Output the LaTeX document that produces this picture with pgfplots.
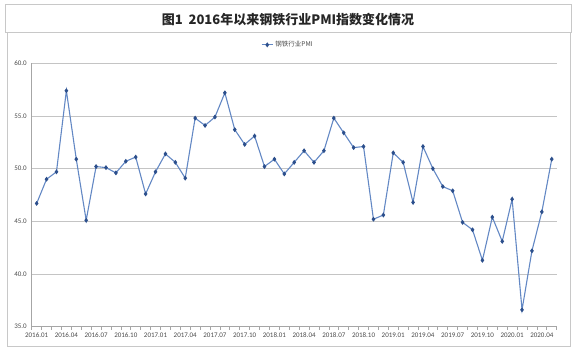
\documentclass[border=0pt]{standalone}
\usepackage{pgfplots}
\pgfplotsset{compat=1.18}
\usepackage{fontspec}
\setmainfont{Carlito}
\newfontfamily\cjk{Noto Sans CJK SC}
\definecolor{frame}{HTML}{C8C8C8}
\definecolor{gridc}{HTML}{C4C4C4}
\definecolor{linec}{HTML}{6388C4}
\definecolor{markc}{HTML}{2C4F8C}
\definecolor{labc}{HTML}{4A4A4A}
\pgfplotstableread{
x y
0 46.7
1 49.0
2 49.7
3 57.4
4 50.9
5 45.1
6 50.2
7 50.1
8 49.6
9 50.7
10 51.1
11 47.6
12 49.7
13 51.4
14 50.6
15 49.1
16 54.8
17 54.1
18 54.9
19 57.2
20 53.7
21 52.3
22 53.1
23 50.2
24 50.9
25 49.5
26 50.6
27 51.7
28 50.6
29 51.7
30 54.8
31 53.4
32 52.0
33 52.1
34 45.2
35 45.6
36 51.5
37 50.6
38 46.8
39 52.1
40 50.0
41 48.3
42 47.9
43 44.9
44 44.2
45 41.3
46 45.4
47 43.1
48 47.1
49 36.6
50 42.2
51 45.9
52 50.9
}\pmidata
\begin{document}
\begin{tikzpicture}
\useasboundingbox (0,0) rectangle (576bp,355bp);
% frames
\draw[frame, line width=1bp] (5bp,322bp) rectangle (571bp,350bp);
\draw[frame, line width=1bp] (7bp,8bp) rectangle (570bp,322bp);
\node[font={\cjk\bfseries\fontsize{13bp}{15bp}\selectfont}, text=black!85] at (288bp,335bp) {图1\ \ 2016年以来钢铁行业PMI指数变化情况};
\begin{axis}[
  at={(31.7bp,28.3bp)}, anchor=south west,
  scale only axis, width=525bp, height=263.4bp,
  xmin=-0.5, xmax=52.5, ymin=35, ymax=60,
  axis lines=left,
  axis line style={-, draw=gray!70, line width=0.8bp},
  xtick={0,3,...,51},
  xticklabels={2016.01,2016.04,2016.07,2016.10,2017.01,2017.04,2017.07,2017.10,2018.01,2018.04,2018.07,2018.10,2019.01,2019.04,2019.07,2019.10,2020.01,2020.04},
  minor xtick={-0.5,0.5,...,52.5},
  tick align=outside,
  major tick length=0pt,
  minor tick length=3bp,
  minor tick style={draw=gray!70, line width=0.7bp},
  ytick={35,40,...,60},
  ymajorgrids,
  grid style={gridc, line width=0.9bp},
  /pgf/number format/assume math mode=true,
  yticklabel style={/pgf/number format/fixed, /pgf/number format/fixed zerofill, /pgf/number format/precision=1},
  yticklabel style={font=\fontsize{7bp}{8bp}\selectfont, text=labc, xshift=-1.5bp},
  xticklabel style={font=\fontsize{7bp}{8bp}\selectfont, text=labc, yshift=-2.5bp},
  legend style={at={(0.488,1.07)}, anchor=center, draw=none, fill=none,
    font={\cjk\fontsize{6.5bp}{7bp}\selectfont}, text=labc, inner sep=1bp},
  legend image code/.code={
    \draw[#1, mark repeat=2, mark phase=2] plot coordinates {(0cm,0cm) (0.2cm,0cm) (0.4cm,0cm)};
  },
  clip=false,
]
\addplot[color=linec, line width=1.1bp, mark=diamond*, mark size=1.6bp,
  mark options={draw=markc, fill=markc}] table[x=x, y=y] {\pmidata};
\addlegendentry{钢铁行业PMI}
\end{axis}
\end{tikzpicture}
\end{document}
